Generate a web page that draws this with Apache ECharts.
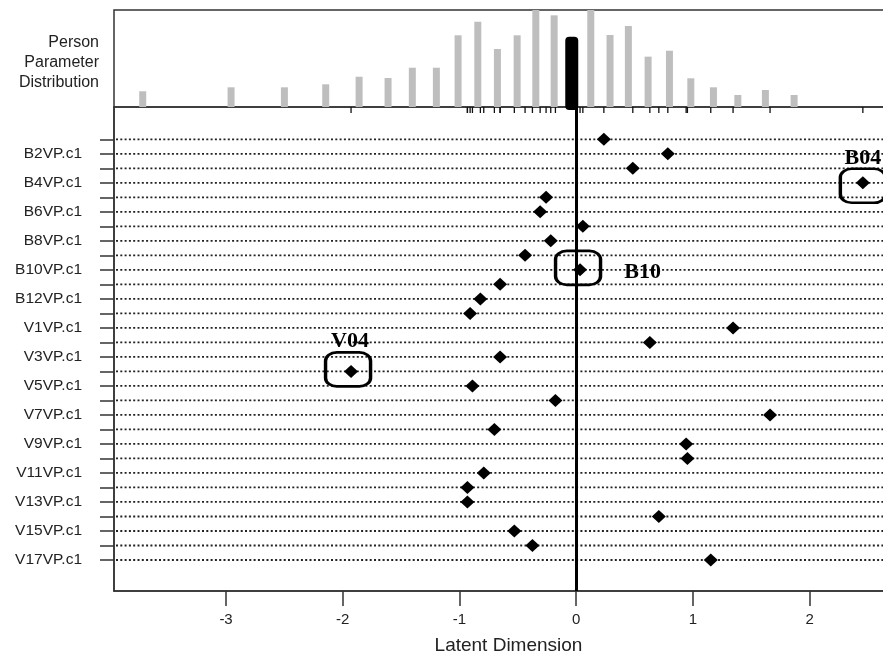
<!DOCTYPE html>
<html>
<head>
<meta charset="utf-8">
<title>Person-Item Map</title>
<script src="https://cdn.jsdelivr.net/npm/echarts@6/dist/echarts.min.js"></script>
<style>
html, body { margin: 0; padding: 0; background: #fff; }
#chart { width: 883px; height: 654px; }
</style>
</head>
<body>
<div id="chart"></div>
<script>
// items, top to bottom
var itemNames = [
    'B1VP.c1', 'B2VP.c1', 'B3VP.c1', 'B4VP.c1', 'B5VP.c1', 'B6VP.c1', 'B7VP.c1',
    'B8VP.c1', 'B9VP.c1', 'B10VP.c1', 'B11VP.c1', 'B12VP.c1', 'B13VP.c1',
    'V1VP.c1', 'V2VP.c1', 'V3VP.c1', 'V4VP.c1', 'V5VP.c1', 'V6VP.c1', 'V7VP.c1',
    'V8VP.c1', 'V9VP.c1', 'V10VP.c1', 'V11VP.c1', 'V12VP.c1', 'V13VP.c1',
    'V14VP.c1', 'V15VP.c1', 'V16VP.c1', 'V17VP.c1'
];
var itemLocations = [
    0.237, 0.785, 0.485, 2.456, -0.258, -0.309, 0.057, -0.218, -0.438, 0.033,
    -0.652, -0.821, -0.909, 1.344, 0.631, -0.652, -1.929, -0.889, -0.178, 1.661,
    -0.701, 0.942, 0.953, -0.792, -0.932, -0.932, 0.708, -0.530, -0.375, 1.153
];
// person parameter histogram
var personBins = [
    -3.714, -2.957, -2.500, -2.146, -1.860, -1.612, -1.404, -1.198, -1.012, -0.843,
    -0.675, -0.506, -0.346, -0.189, 0.125, 0.290, 0.447, 0.616, 0.799, 0.982,
    1.176, 1.385, 1.621, 1.867
];
var personHeights = [
    16.2, 20.3, 20.3, 23.4, 31.2, 29.9, 40.5, 40.5, 73.9, 87.9,
    59.8, 73.9, 100, 94.5, 100, 74.2, 83.5, 51.9, 58.0, 29.6,
    20.3, 12.4, 17.5, 12.4
];
var meanMarker = [-0.038, 72.5];
var xTicks = [-3, -2, -1, 0, 1, 2];
var highlightItems = ['B4VP.c1', 'B10VP.c1', 'V4VP.c1'];
var highlightLabels = ['B04', 'B10', 'V04'];

var XMIN = -3.96, XMAX = 2.8;
var rows = itemNames.map(function(n, i) { return i + 1; });
var labelRows = rows.filter(function(r) { return r % 2 === 0; });
var frameColor = '#333';
var textColor = '#222';

var myChart = echarts.init(document.getElementById('chart'));

var labelStyles = [
    {position: 'top', distance: -2, offset: [0, 3], textOffset: [0, 0]},
    {position: 'right', distance: 22, offset: [-2, -2], textOffset: [0, 4]},
    {position: 'top', distance: -1, offset: [-3, -2], textOffset: [2, 0]}
];
var boxes = highlightItems.map(function(name, k) {
    var r = itemNames.indexOf(name) + 1;
    return {
        coord: [itemLocations[r - 1], r],
        symbolOffset: labelStyles[k].offset,
        label: {
            show: true,
            formatter: highlightLabels[k],
            position: labelStyles[k].position,
            distance: labelStyles[k].distance,
            offset: labelStyles[k].textOffset
        }
    };
});

var option = {
    animation: false,
    backgroundColor: '#fff',
    grid: [
        {left: 114, width: 789, top: 10, height: 97, outerBoundsMode: 'none',
         show: true, borderColor: frameColor, borderWidth: 1.5},
        {left: 114, width: 789, top: 107, height: 484, outerBoundsMode: 'none',
         show: true, borderColor: frameColor, borderWidth: 1.5}
    ],
    xAxis: [
        {
            gridIndex: 0, type: 'value', min: XMIN, max: XMAX,
            axisLine: {show: false, onZero: false}, axisTick: {show: false}, axisLabel: {show: false}, splitLine: {show: false}
        },
        {
            gridIndex: 1, type: 'value', min: XMIN, max: XMAX, position: 'bottom',
            axisLine: {show: true, onZero: false, lineStyle: {color: frameColor, width: 1.5}},
            axisTick: {show: true, length: 15, customValues: xTicks, lineStyle: {color: frameColor, width: 1.5}},
            axisLabel: {customValues: xTicks, margin: 21, fontSize: 15, color: textColor, fontFamily: 'Liberation Sans'},
            splitLine: {show: false},
            name: 'Latent Dimension', nameLocation: 'middle', nameGap: 45,
            nameTextStyle: {fontSize: 19, color: textColor, fontFamily: 'Liberation Sans'}
        }
    ],
    yAxis: [
        {
            gridIndex: 0, type: 'value', min: 0, max: 100, position: 'left',
            axisLine: {show: false, onZero: false}, axisTick: {show: false}, axisLabel: {show: false}, splitLine: {show: false},
            name: '{t|Person}\n{t|Parameter}\n{t|Distribution}',
            nameLocation: 'middle', nameRotate: 0, nameGap: 15,
            nameTextStyle: {
                align: 'right',
                rich: {
                    t: {fontSize: 16, lineHeight: 20, height: 20, color: textColor,
                        fontFamily: 'Liberation Sans', padding: [8, 0, 0, 0]}
                }
            }
        },
        {
            gridIndex: 1, type: 'value', inverse: true, min: -1.2265, max: 32.137, position: 'left',
            axisLine: {show: true, onZero: false, lineStyle: {color: frameColor, width: 1.5}},
            axisTick: {show: true, length: 14, customValues: rows, lineStyle: {color: frameColor, width: 1.5}},
            axisLabel: {
                customValues: labelRows, margin: 32, fontSize: 15.5, color: textColor, fontFamily: 'Liberation Sans',
                formatter: function(v) { return itemNames[Math.round(v) - 1]; }
            },
            splitLine: {show: false}
        }
    ],
    series: [
        {
            name: 'persons', type: 'bar', xAxisIndex: 0, yAxisIndex: 0, silent: true,
            barWidth: 7, itemStyle: {color: '#bebebe'},
            data: personBins.map(function(x, i) { return [x, personHeights[i]]; })
        },
        {
            name: 'item rug', type: 'custom', xAxisIndex: 0, yAxisIndex: 0, silent: true,
            data: itemLocations.map(function(v) { return [v, 0]; }),
            renderItem: function(params, api) {
                var p = api.coord([api.value(0), 0]);
                return {type: 'line', shape: {x1: p[0], y1: p[1], x2: p[0], y2: p[1] + 6},
                        style: {stroke: '#111', lineWidth: 1.3}};
            }
        },
        {
            name: 'mean', type: 'custom', xAxisIndex: 0, yAxisIndex: 0, silent: true, z: 4,
            data: [meanMarker],
            renderItem: function(params, api) {
                var p0 = api.coord([api.value(0), 0]);
                var p1 = api.coord([api.value(0), api.value(1)]);
                return {type: 'rect', shape: {x: p0[0] - 6.5, y: p1[1], width: 13, height: p0[1] - p1[1] + 3, r: 4},
                        style: {fill: '#000'}};
            }
        },
        {
            name: 'rows', type: 'custom', xAxisIndex: 1, yAxisIndex: 1, silent: true, z: 1,
            data: rows.map(function(r) { return [XMIN, r]; }),
            renderItem: function(params, api) {
                var p = api.coord([XMIN, api.value(1)]);
                var right = params.coordSys.x + params.coordSys.width;
                return {type: 'line', shape: {x1: p[0] + 2, y1: p[1], x2: right, y2: p[1]},
                        style: {stroke: '#222', lineWidth: 1.8, lineDash: [2, 2.3]}};
            },
            markLine: {
                silent: true, symbol: 'none', label: {show: false},
                lineStyle: {color: '#000', width: 3, type: 'solid'},
                data: [{xAxis: 0}]
            }
        },
        {
            name: 'items', type: 'scatter', xAxisIndex: 1, yAxisIndex: 1, z: 5,
            symbol: 'diamond', symbolSize: [14, 13], itemStyle: {color: '#000', opacity: 1},
            data: itemLocations.map(function(v, i) { return [v, i + 1]; }),
            markPoint: {
                symbol: 'roundRect', symbolSize: [45, 34],
                itemStyle: {color: 'rgba(0,0,0,0)', borderColor: '#000', borderWidth: 3, opacity: 1},
                label: {color: '#000', fontFamily: 'Liberation Serif', fontWeight: 'bold', fontSize: 22},
                data: boxes
            }
        }
    ]
};
myChart.setOption(option);
</script>
</body>
</html>
